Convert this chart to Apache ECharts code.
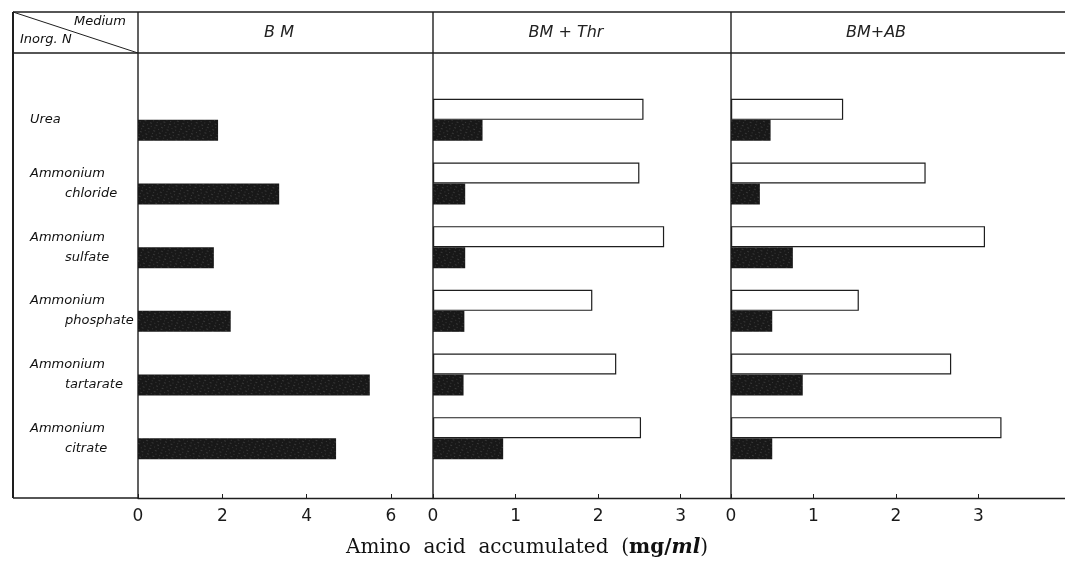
<!DOCTYPE html>
<html>
<head>
<meta charset="utf-8">
<script src="https://cdn.jsdelivr.net/npm/echarts@6/dist/echarts.min.js"></script>
<style>
html,body{margin:0;padding:0;background:#fff;}
#c{width:1065px;height:570px;}
</style>
</head>
<body>
<div id="c"></div>
<script>
// ---- data ----
const categories = ['Urea', 'Ammonium\nchloride', 'Ammonium\nsulfate', 'Ammonium\nphosphate', 'Ammonium\ntartarate', 'Ammonium\ncitrate'];
const mediums = ['B M', 'BM + Thr', 'BM+AB'];
const bmOpen = [null, null, null, null, null, null];
const bmFilled = [1.9, 3.35, 1.8, 2.2, 5.5, 4.7];
const thrOpen = [2.55, 2.5, 2.8, 1.93, 2.22, 2.52];
const thrFilled = [0.6, 0.39, 0.39, 0.38, 0.37, 0.85];
const abOpen = [1.36, 2.36, 3.08, 1.55, 2.67, 3.28];
const abFilled = [0.48, 0.35, 0.75, 0.5, 0.87, 0.5];
const ticks1 = [0, 2, 4, 6];
const ticks2 = [0, 1, 2, 3];
const ticks3 = [0, 1, 2, 3];
const axisMax = [7, 3.61, 4.05];
const xTitle = 'Amino  acid  accumulated';

// ---- layout ----
const L = { left: 13, top: 12, head: 53, plotTop: 88, plotBottom: 470, axisY: 498, right: 1065 };
const panelX = [138, 433, 731, 1065];
const ink = '#1e1e1e';

const chart = echarts.init(document.getElementById('c'), null, { renderer: 'canvas' });

const grids = [], xAxes = [], yAxes = [], series = [];
const openSets = [bmOpen, thrOpen, abOpen];
const filledSets = [bmFilled, thrFilled, abFilled];
const tickSets = [ticks1, ticks2, ticks3];

for (let i = 0; i < 3; i++) {
  grids.push({ left: panelX[i], width: panelX[i + 1] - panelX[i], top: L.plotTop, height: L.plotBottom - L.plotTop, containLabel: false });
  xAxes.push({
    type: 'value', gridIndex: i, min: 0, max: axisMax[i],
    offset: L.axisY - L.plotBottom,
    splitLine: { show: false },
    axisLine: { show: true, lineStyle: { color: ink, width: 1.3 } },
    axisTick: { show: true, inside: true, length: 4, customValues: tickSets[i], lineStyle: { color: ink, width: 1 } },
    axisLabel: { show: true, customValues: tickSets[i], margin: 10, color: '#1a1a1a', fontFamily: 'DejaVu Sans', fontWeight: 'normal', fontSize: 17 }
  });
  yAxes.push({
    type: 'category', gridIndex: i, data: categories, inverse: true,
    axisLine: { show: false }, axisTick: { show: false }, splitLine: { show: false },
    axisLabel: i === 0 ? {
      show: true, align: 'left', margin: panelX[0] - 30,
      formatter: function (v) {
        const p = v.split('\n');
        return p.length === 1 ? '{a|' + p[0] + '}' : '{a|' + p[0] + '}\n{b|' + p[1] + '}';
      },
      rich: {
        a: { fontFamily: 'DejaVu Sans', fontStyle: 'italic', fontSize: 13, color: '#111', lineHeight: 20 },
        b: { fontFamily: 'DejaVu Sans', fontStyle: 'italic', fontSize: 13, color: '#111', lineHeight: 20, padding: [0, 0, 0, 35] }
      }
    } : { show: false }
  });
  series.push({
    type: 'bar', name: 'open', xAxisIndex: i, yAxisIndex: i, data: openSets[i],
    barWidth: 21, barGap: '0%',
    itemStyle: { color: '#ffffff', borderColor: ink, borderWidth: 1.2 },
    silent: true
  });
  series.push({
    type: 'bar', name: 'filled', xAxisIndex: i, yAxisIndex: i, data: filledSets[i],
    barWidth: 21, barGap: '0%',
    itemStyle: {
      color: '#181818',
      decal: { symbol: 'rect', symbolSize: 0.6, color: 'rgba(255,255,255,0.45)', dashArrayX: [[1, 3], [2, 4]], dashArrayY: [1, 2], rotation: 0.4 }
    },
    silent: true
  });
}

// frame / decoration
const lineStyle = { stroke: ink, lineWidth: 1.4 };
const graphic = [
  { type: 'line', shape: { x1: L.left, y1: L.top, x2: L.right, y2: L.top }, style: lineStyle },
  { type: 'line', shape: { x1: L.left, y1: L.head, x2: L.right, y2: L.head }, style: lineStyle },
  { type: 'line', shape: { x1: L.left, y1: L.top, x2: L.left, y2: L.axisY }, style: { stroke: ink, lineWidth: 2 } },
  { type: 'line', shape: { x1: L.left, y1: L.axisY, x2: panelX[0], y2: L.axisY }, style: lineStyle },
  { type: 'line', shape: { x1: L.left, y1: L.top, x2: panelX[0], y2: L.head }, style: { stroke: ink, lineWidth: 1 } },
  { type: 'text', x: 126, y: 22, style: { text: 'Medium', align: 'right', verticalAlign: 'middle', fill: '#111', font: 'italic 13px "DejaVu Sans"' } },
  { type: 'text', x: 20, y: 40, style: { text: 'Inorg. N', align: 'left', verticalAlign: 'middle', fill: '#111', font: 'italic 13px "DejaVu Sans"' } },
  { type: 'text', x: 527, y: 548, style: {
      text: '{n|' + xTitle + '  (}{b|mg/}{bi|ml}{n|)}', align: 'center', verticalAlign: 'middle',
      rich: {
        n: { fontFamily: 'DejaVu Serif', fontSize: 20, fill: '#111' },
        b: { fontFamily: 'DejaVu Serif', fontSize: 20, fontWeight: 'bold', fill: '#111' },
        bi: { fontFamily: 'DejaVu Serif', fontSize: 20, fontWeight: 'bold', fontStyle: 'italic', fill: '#111' }
      } } }
];
for (let i = 0; i < 3; i++) {
  graphic.push({ type: 'line', shape: { x1: panelX[i], y1: L.top, x2: panelX[i], y2: L.axisY }, style: lineStyle });
}
const headX = [279, 566, 876];
for (let i = 0; i < 3; i++) {
  graphic.push({ type: 'text', x: headX[i], y: 33, style: { text: mediums[i], align: 'center', verticalAlign: 'middle', fill: '#222', font: 'italic lighter 16px "DejaVu Sans"' } });
}

chart.setOption({
  animation: false,
  backgroundColor: '#ffffff',
  grid: grids, xAxis: xAxes, yAxis: yAxes, series: series,
  graphic: graphic
});
</script>
</body>
</html>
